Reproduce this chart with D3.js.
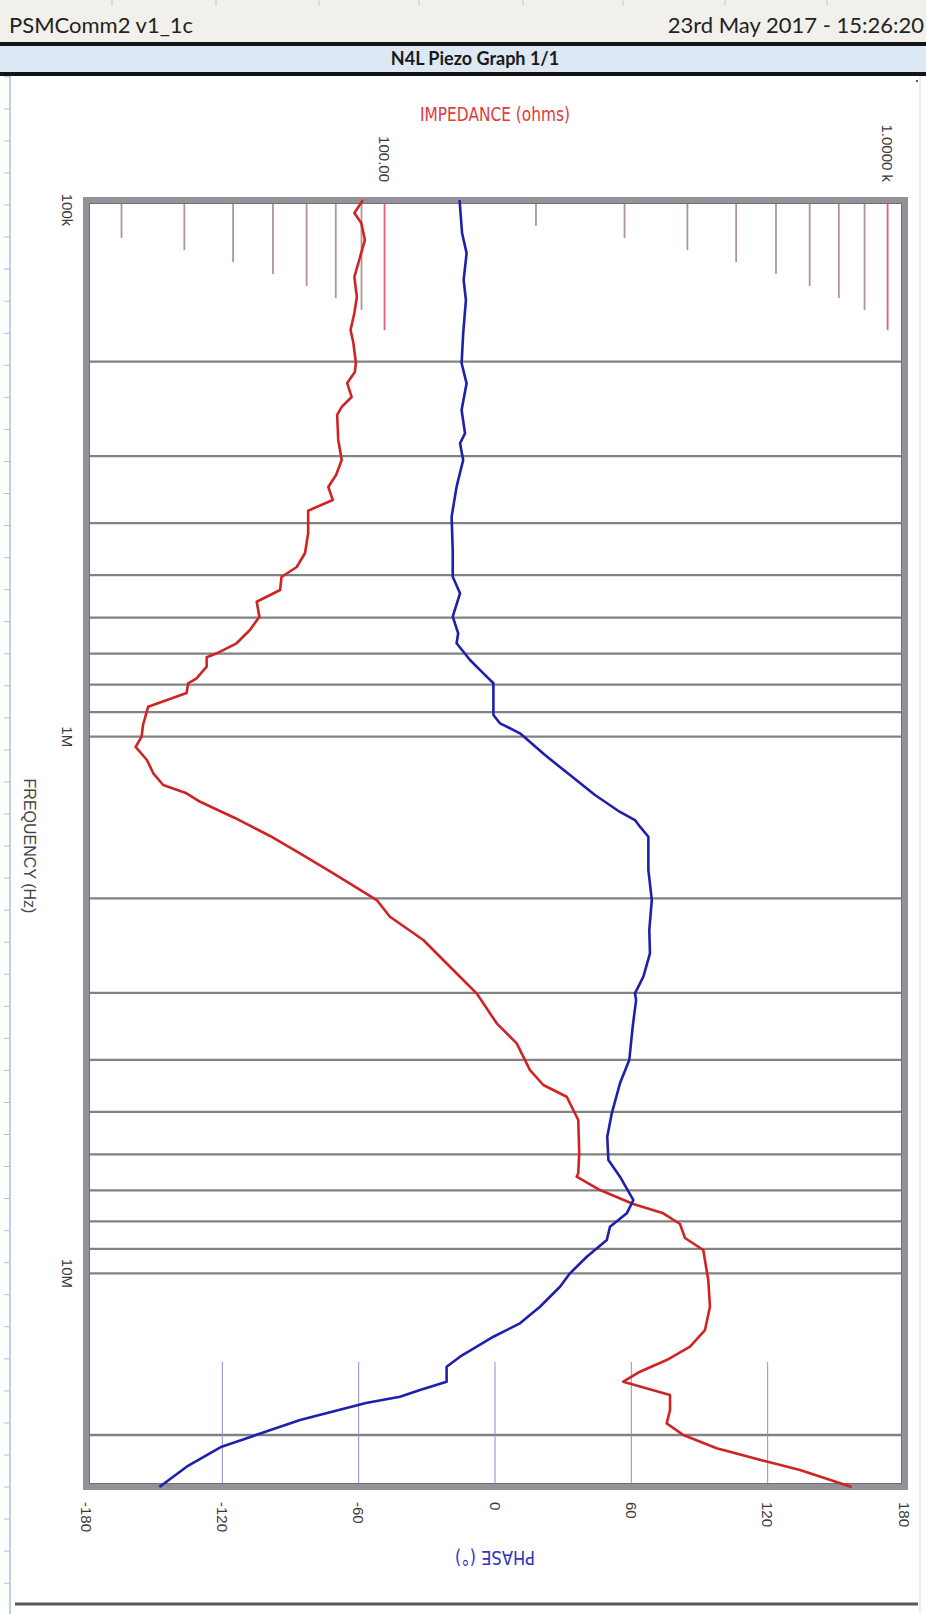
<!DOCTYPE html>
<html><head><meta charset="utf-8">
<script src="https://cdn.jsdelivr.net/npm/d3@7"></script>
<style>body{margin:0;background:#fff}svg{display:block}</style>
</head><body>
<svg id="c" width="926" height="1614"></svg>
<script>
const headerLeft = "PSMComm2 v1_1c";
const headerRight = "23rd May 2017 - 15:26:20";
const chartTitle = "N4L Piezo Graph 1/1";
const impedanceTitle = "IMPEDANCE (ohms)";
const phaseTitle = "PHASE (°)";
const freqTitle = "FREQUENCY (Hz)";

const freqDomain = [1e5, 2.5e7];
const impDomain = [25.5, 1078];
const phaseDomain = [-180, 180];

const freqTicks = [1e5, 1e6, 1e7];
const freqTickLabels = ["100k", "1M", "10M"];
const impTicks = [100, 1000];
const impTickLabels = ["100.00", "1.0000 k"];
const phaseTicks = [-180, -120, -60, 0, 60, 120, 180];
const phaseTickLabels = ["-180", "-120", "-60", "0", "60", "120", "180"];

// Impedance (ohms) vs frequency (Hz)
const impFreq = [100000,105700,110400,118700,127700,139100,151600,162400,174700,184700,
  201200,209200,219300,232800,243000,251500,280000,305100,325400,342600,
  362200,379200,417300,454700,482900,504000,532900,560400,597600,632700,
  669800,699200,711300,740600,778400,795200,829100,879200,951000,1000000,
  1045000,1105000,1170000,1230000,1275000,1322000,1417000,1531000,1649000,1797000,
  2015000,2165000,2392000,2683000,3007000,3420000,3726000,4179000,4456000,4686000,
  5178000,5974000,6509000,6604000,6992000,7425000,7727000,8090000,8591000,9045000,
  10290000,11535000,12752000,13696000,14499000,15247000,15914000,16849000,17969000,19024000,
  20005000,21178000,22411000,23244000,25000000];
const impedance = [90.6,87.1,89.9,91.4,89.4,87.1,88.1,87.1,85.6,86.7,
  87.7,87.3,84.3,86.0,82.2,80.5,80.9,82.2,80.1,77.3,
  78.9,70.5,70.5,69.5,66.9,62.4,62.0,55.7,56.4,54.0,
  50.8,46.4,44.3,44.3,42.3,40.7,40.4,33.9,33.1,32.9,
  32.0,33.7,34.7,36.3,40.4,43.0,50.4,59.2,67.9,79.1,
  96.5,102.5,119.4,134.9,152.4,167.1,183.1,194.6,206.8,230.2,
  242.7,243.8,242.7,240.9,268.1,312.2,358.2,386.7,395.6,430.1,
  440.1,443.5,433.5,404.8,363.8,321.9,298.2,369.4,369.4,363.8,
  392.6,457.3,575.0,669.7,848.3];

// Phase (degrees) vs frequency (Hz)
const phaseFreq = [100000,115200,125600,140900,153600,177200,201500,219600,246200,272100,
  284000,305100,342100,389100,448900,503400,540500,597600,641700,669800,
  719600,761900,795200,911100,944100,985500,1082000,1179000,1284000,1381000,
  1430000,1471000,1536000,1772000,2015000,2292000,2533000,2800000,3007000,3095000,
  3470000,4003000,4424000,5031000,5563000,6148000,6604000,7299000,7727000,8185000,
  8665000,9309000,9996000,10587000,11535000,12388000,13120000,14296000,14922000,15914000,
  16491000,16972000,17437000,18757000,21033000,22917000,25000000];
const phaseDeg = [-15.6,-14.5,-12.5,-13.8,-12.8,-14.0,-14.7,-12.5,-14.7,-13.2,
  -15.4,-14.0,-16.9,-19.1,-18.6,-18.6,-15.4,-18.6,-16.2,-16.9,
  -11.0,-5.1,-0.7,-0.7,2.2,11.0,22.0,33.0,44.0,55.0,
  61.6,63.8,67.5,67.5,69.0,67.9,68.2,65.3,61.6,62.1,
  60.6,59.1,55.0,51.4,49.4,49.9,55.0,60.9,58.0,50.6,
  49.2,40.4,33.0,28.6,19.8,11.0,-0.7,-15.4,-21.3,-21.3,
  -33.0,-41.8,-56.8,-85.8,-120.3,-135.7,-147.7];

const svg = d3.select("#c");
const L = 86, R = 904, T = 200, B = 1487;
const fy = d3.scaleLog().domain(freqDomain).range([T, B]);
const zx = d3.scaleLog().domain(impDomain).range([L, R]);
const px = d3.scaleLinear().domain(phaseDomain).range([L, R]);

// ---- page decoration ----
svg.append("rect").attr("x",0).attr("y",0).attr("width",926).attr("height",43).attr("fill","#f1f0eb");
[112,216,319,419,523,623,725,827].forEach(x=>{
  svg.append("line").attr("x1",x).attr("x2",x).attr("y1",0).attr("y2",6).attr("stroke","#c3cad6").attr("stroke-width",1);
});
svg.append("rect").attr("x",0).attr("y",46).attr("width",926).attr("height",26).attr("fill","#dce8f4");
svg.append("rect").attr("x",0).attr("y",42).attr("width",926).attr("height",4).attr("fill","#141414");
svg.append("rect").attr("x",0).attr("y",72).attr("width",926).attr("height",4).attr("fill","#141414");
const hf = "Lato, 'Open Sans', 'Liberation Sans', sans-serif";
svg.append("text").attr("x",9).attr("y",33).attr("font-family",hf).attr("font-size",22).attr("fill","#222").text(headerLeft);
svg.append("text").attr("x",924).attr("y",33).attr("text-anchor","end").attr("font-family",hf).attr("font-size",22).attr("fill","#222").text(headerRight);
svg.append("text").attr("x",475).attr("y",65).attr("text-anchor","middle").attr("font-family",hf).attr("font-weight","bold").attr("font-size",18).attr("fill","#1a1a1a").text(chartTitle);

// left ruler
svg.append("line").attr("x1",10).attr("x2",10).attr("y1",76).attr("y2",1614).attr("stroke","#a9c1dd").attr("stroke-width",1.5);
d3.range(-3, 46).forEach(k=>{
  const y = 173 + 32.05*k;
  svg.append("line").attr("x1",4).attr("x2",10).attr("y1",y).attr("y2",y).attr("stroke","#a9c1dd").attr("stroke-width",1);
});
svg.append("line").attr("x1",920).attr("x2",920).attr("y1",76).attr("y2",1614).attr("stroke","#d6dae2").attr("stroke-width",1);
svg.append("rect").attr("x",916).attr("y",80).attr("width",2).attr("height",2).attr("fill","#555");
svg.append("line").attr("x1",15).attr("x2",918).attr("y1",1604).attr("y2",1604).attr("stroke","#575757").attr("stroke-width",3);

// ---- frequency gridlines ----
const gridF = fy.ticks().filter(t => t > freqDomain[0] && t < freqDomain[1]);
svg.append("g").selectAll("line").data(gridF).join("line")
  .attr("x1", L).attr("x2", R).attr("y1", d=>fy(d)).attr("y2", d=>fy(d))
  .attr("stroke", "#828282").attr("stroke-width", 2.3);

// ---- impedance ticks (top) ----
const zt = zx.ticks();
const mant = d => Math.round(d / Math.pow(10, Math.floor(Math.log10(d)+1e-9)));
svg.append("g").selectAll("line").data(zt).join("line")
  .attr("x1", d=>zx(d)).attr("x2", d=>zx(d))
  .attr("y1", T+2)
  .attr("y2", d => mant(d) === 1 ? T + 130 : T + 2 + 12*mant(d))
  .attr("stroke", d => mant(d) === 1 ? "#ec5c74" : "#b39494")
  .attr("stroke-width", 1.8);

// ---- phase gridlines (bottom) ----
svg.append("g").selectAll("line").data(phaseTicks).join("line")
  .attr("x1", d=>px(d)).attr("x2", d=>px(d)).attr("y1", B-125).attr("y2", B)
  .attr("stroke", "#8a90d2").attr("stroke-width", 1);

// ---- border ----
svg.append("rect").attr("x",L).attr("y",T).attr("width",R-L+1).attr("height",B-T)
  .attr("fill","none").attr("stroke","#929298").attr("stroke-width",6);
svg.append("rect").attr("x",L+3.5).attr("y",T+3.5).attr("width",R-L-6).attr("height",B-T-7)
  .attr("fill","none").attr("stroke","#707070").attr("stroke-width",1);

// ---- curves ----
const impData = impFreq.map((f,i)=>({f, v: impedance[i]}));
const phData = phaseFreq.map((f,i)=>({f, v: phaseDeg[i]}));
svg.append("path").datum(impData)
  .attr("d", d3.line().x(d=>zx(d.v)).y(d=>fy(d.f)))
  .attr("fill","none").attr("stroke","#d02424").attr("stroke-width",2.6).attr("stroke-linejoin","round");
svg.append("path").datum(phData)
  .attr("d", d3.line().x(d=>px(d.v)).y(d=>fy(d.f)))
  .attr("fill","none").attr("stroke","#1f1fae").attr("stroke-width",2.6).attr("stroke-linejoin","round");

// ---- labels ----
const tf = "'Liberation Sans', Arial, sans-serif";
svg.append("g").selectAll("text").data(freqTicks).join("text")
  .attr("transform", d=>`translate(67,${Math.max(fy(d), 210)}) rotate(90)`)
  .attr("text-anchor","middle").attr("dy","0.35em")
  .attr("font-family",tf).attr("font-size",15).attr("fill","#3a3a3a")
  .text((d,i)=>freqTickLabels[i]);
svg.append("g").selectAll("text").data(impTicks).join("text")
  .attr("transform", d=>`translate(${zx(d)},182) rotate(90)`)
  .attr("text-anchor","end").attr("dy","0.35em")
  .attr("font-family",tf).attr("font-size",15).attr("fill","#3a3a3a")
  .text((d,i)=>impTickLabels[i]);
svg.append("g").selectAll("text").data(phaseTicks).join("text")
  .attr("transform", d=>`translate(${px(d)},1502) rotate(90)`)
  .attr("text-anchor","start").attr("dy","0.35em")
  .attr("font-family",tf).attr("font-size",15).attr("fill","#3a3a3a")
  .text((d,i)=>phaseTickLabels[i]);
svg.append("text").attr("transform","translate(30,846) rotate(90)")
  .attr("text-anchor","middle").attr("dy","0.35em")
  .attr("font-family",tf).attr("font-size",16).attr("fill","#444").text(freqTitle);
svg.append("text").attr("x",(L+R)/2).attr("y",121).attr("text-anchor","middle")
  .attr("font-family","'Liberation Sans Narrow','DejaVu Sans Condensed',sans-serif").attr("font-size",19)
  .attr("textLength",150).attr("lengthAdjust","spacingAndGlyphs")
  .attr("fill","#e23a3a").text(impedanceTitle);
svg.append("text").attr("transform",`translate(${(L+R)/2},1558) rotate(180)`)
  .attr("text-anchor","middle").attr("dy","0.35em")
  .attr("font-family","'Liberation Sans Narrow','DejaVu Sans Condensed',sans-serif").attr("font-size",19)
  .attr("textLength",80).attr("lengthAdjust","spacingAndGlyphs")
  .attr("fill","#3434c4").text(phaseTitle);
</script>
</body></html>
